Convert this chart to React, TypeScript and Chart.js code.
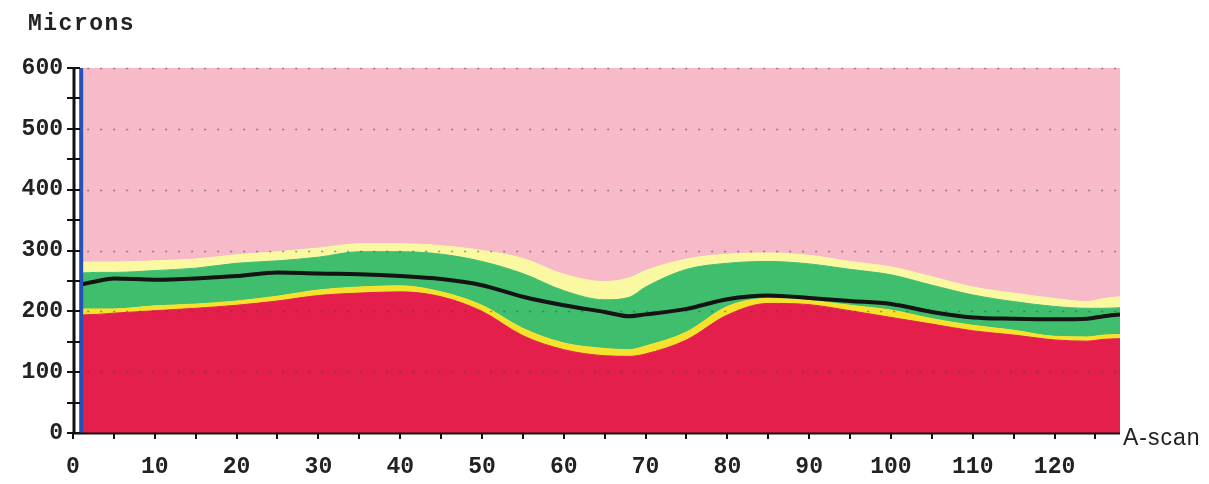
import React, { useEffect, useRef } from "react";
import { Chart, registerables } from "chart.js";
Chart.register(...registerables);

// A-scan positions where the layer boundaries were read
const aScan = [1, 3, 5, 10, 15, 20, 25, 30, 35, 40, 45, 50, 55, 60, 65, 68, 70, 75, 80, 85, 90, 95, 100, 105, 110, 115, 120, 124, 126, 128];
// Upper boundary of each coloured layer (microns)
const redTop = [194, 195, 197, 201, 205, 210, 217, 226, 230, 232, 224, 200, 160, 137, 127, 126, 130, 153, 194, 213, 211, 201, 190, 179, 168, 161, 153, 151, 154, 155];
const yellowTop = [204, 204, 204, 209, 212, 217, 225, 235, 240, 242, 232, 210, 172, 148, 139, 137, 143, 166, 208, 221, 218, 210, 202, 188, 177, 169, 159, 158, 161, 162];
const greenTop = [263, 264, 264, 267, 271, 279, 283, 289, 298, 298, 294, 282, 262, 234, 219, 223, 240, 269, 279, 282, 278, 269, 260, 243, 227, 216, 208, 205, 205, 206];
const paleTop = [281, 281, 281, 283, 286, 293, 298, 304, 311, 311, 308, 300, 287, 261, 249, 255, 267, 286, 294, 296, 292, 282, 273, 257, 240, 230, 221, 216, 221, 224];
const pinkTop = [600, 600, 600, 600, 600, 600, 600, 600, 600, 600, 600, 600, 600, 600, 600, 600, 600, 600, 600, 600, 600, 600, 600, 600, 600, 600, 600, 600, 600, 600];
// Black thickness line
const blackLine = [244, 250, 254, 252, 254, 258, 264, 262, 261, 258, 253, 243, 224, 210, 199, 192, 195, 204, 220, 226, 222, 217, 212, 199, 190, 188, 187, 188, 192, 195];

const yTickValues = [0, 100, 200, 300, 400, 500, 600];
const yMinorTicks = [0, 50, 100, 150, 200, 250, 300, 350, 400, 450, 500, 550, 600];
const xTickValues = [0, 10, 20, 30, 40, 50, 60, 70, 80, 90, 100, 110, 120];
const xMinorTicks = [0, 5, 10, 15, 20, 25, 30, 35, 40, 45, 50, 55, 60, 65, 70, 75, 80, 85, 90, 95, 100, 105, 110, 115, 120, 125];
const xMax = 128;
const yLabel = "Microns";
const xLabel = "A-scan";

const pts = (ys: number[]) => aScan.map((x, i) => ({ x, y: ys[i] }));

export default function App() {
  const ref = useRef<HTMLCanvasElement | null>(null);
  useEffect(() => {
    if (!ref.current) return;
    const band = (data: number[], color: string, fill: any) => ({
      data: pts(data),
      backgroundColor: color,
      borderColor: color,
      borderWidth: 1,
      pointRadius: 0,
      fill,
      tension: 0.3,
      cubicInterpolationMode: "monotone" as const,
    });
    const decor = {
      id: "decor",
      beforeDatasetDraw(chart: any, args: any) {
        if (args.index !== 5) return;
        const { ctx, chartArea, scales } = chart;
        ctx.save();
        ctx.strokeStyle = "rgba(70,70,70,0.55)";
        ctx.lineWidth = 1.5;
        ctx.setLineDash([2, 11]);
        for (const v of yTickValues) {
          if (v === 0) continue;
          const py = Math.round(scales.y.getPixelForValue(v)) + 0.5;
          ctx.beginPath();
          ctx.moveTo(scales.x.getPixelForValue(aScan[0]) + 6, py);
          ctx.lineTo(chartArea.right, py);
          ctx.stroke();
        }
        ctx.restore();
      },
      afterDraw(chart: any) {
        const { ctx, chartArea, scales } = chart;
        const { left, right, top, bottom } = chartArea;
        ctx.save();
        ctx.strokeStyle = "#111";
        ctx.lineWidth = 3;
        // y axis line
        ctx.beginPath();
        ctx.moveTo(left + 1, top - 1);
        ctx.lineTo(left + 1, bottom + 1);
        ctx.stroke();
        // x axis line
        ctx.lineWidth = 2;
        ctx.beginPath();
        ctx.moveTo(left, bottom + 0.5);
        ctx.lineTo(right, bottom + 0.5);
        ctx.stroke();
        // y ticks crossing the axis
        ctx.lineWidth = 2;
        for (const v of yMinorTicks) {
          const py = Math.round(scales.y.getPixelForValue(v));
          ctx.beginPath();
          ctx.moveTo(left - 6, py);
          ctx.lineTo(left + 7, py);
          ctx.stroke();
        }
        // x ticks
        for (const v of xMinorTicks) {
          const px = Math.round(scales.x.getPixelForValue(v));
          ctx.beginPath();
          ctx.moveTo(px, bottom);
          ctx.lineTo(px, bottom + 6);
          ctx.stroke();
        }
        ctx.fillStyle = "#222";
        ctx.font = "bold 23px 'Liberation Mono'";
        (ctx as any).letterSpacing = "1.5px";
        ctx.textBaseline = "alphabetic";
        ctx.textAlign = "left";
        ctx.fillText(yLabel, 28, 30);
        ctx.font = "23px 'Liberation Sans'";
        (ctx as any).letterSpacing = "1px";
        ctx.textBaseline = "middle";
        ctx.fillText(xLabel, right + 3, bottom + 6);
        ctx.restore();
      },
    };
    const chart = new Chart(ref.current, {
      type: "line",
      data: {
        datasets: [
          band(redTop, "#e41f4c", "origin"),
          band(yellowTop, "#f6e22c", "-1"),
          band(greenTop, "#3fbe6d", "-1"),
          band(paleTop, "#fbf8a2", "-1"),
          band(pinkTop, "#f7bac8", "-1"),
          {
            data: pts(blackLine),
            borderColor: "#141414",
            borderWidth: 4,
            pointRadius: 0,
            fill: false,
            tension: 0.3,
            cubicInterpolationMode: "monotone",
            order: -1,
          },
          {
            data: [
              { x: aScan[0], y: 0 },
              { x: aScan[0], y: pinkTop[0] },
            ],
            borderColor: "#2450b8",
            borderWidth: 4,
            pointRadius: 0,
            fill: false,
            order: -2,
          },
        ] as any,
      },
      options: {
        animation: false,
        responsive: false,
        maintainAspectRatio: false,
        layout: { padding: { top: 68, right: 89, left: 0, bottom: 0 } },
        plugins: { legend: { display: false }, tooltip: { enabled: false }, title: { display: false } },
        scales: {
          x: {
            type: "linear",
            min: 0,
            max: xMax,
            grid: { display: false, drawTicks: false },
            border: { display: false },
            afterBuildTicks: (s: any) => {
              s.ticks = xTickValues.map((v) => ({ value: v }));
            },
            afterFit: (s: any) => {
              s.height = 51;
            },
            ticks: {
              autoSkip: false,
              maxRotation: 0,
              padding: 20,
              color: "#222",
              font: { family: "'Liberation Mono'", size: 23, weight: "bold" },
            },
          },
          y: {
            min: 0,
            max: 600,
            grid: { display: false, drawTicks: false },
            border: { display: false },
            afterBuildTicks: (s: any) => {
              s.ticks = yTickValues.map((v) => ({ value: v }));
            },
            afterFit: (s: any) => {
              s.width = 73;
            },
            ticks: {
              padding: 10,
              color: "#222",
              font: { family: "'Liberation Mono'", size: 23, weight: "bold" },
            },
          },
        },
      },
      plugins: [decor],
    });
    return () => chart.destroy();
  }, []);
  return (
    <div style={{ position: "fixed", left: 0, top: 0, width: 1209, height: 484, background: "#fff" }}>
      <canvas ref={ref} width={1209} height={484} style={{ width: 1209, height: 484 }} />
    </div>
  );
}
